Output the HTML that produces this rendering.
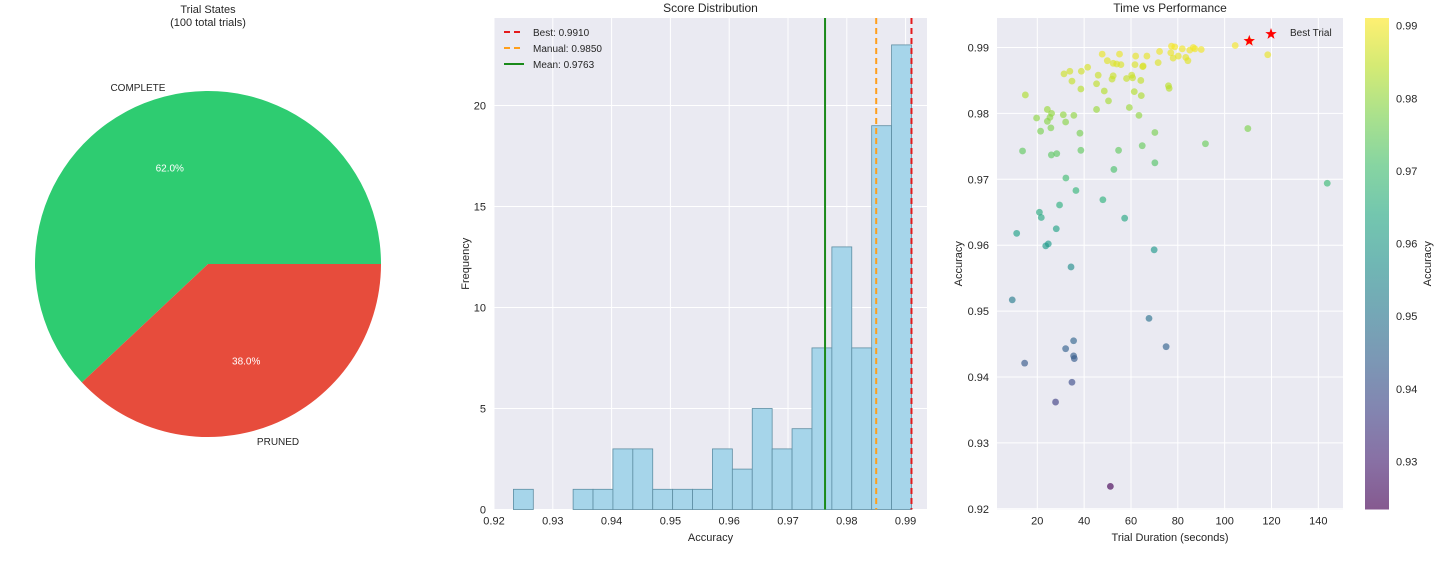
<!DOCTYPE html>
<html><head><meta charset="utf-8"><style>
body{margin:0;background:#fff;font-family:"Liberation Sans",sans-serif;}
svg text{font-family:"Liberation Sans",sans-serif;fill:#262626;}
</style></head><body>
<svg id="c" width="1440" height="558" xmlns="http://www.w3.org/2000/svg"></svg>
<script>
const pieLabels=["COMPLETE","PRUNED"];
const pieValues=[62,38];
const pieColors=["#2ecc71","#e74c3c"];
const histCounts=[1,0,0,1,1,3,3,1,1,1,3,2,5,3,4,8,13,8,19,23];
const histMin=0.9233, histMax=0.9910;
const histXTicks=[0.92,0.93,0.94,0.95,0.96,0.97,0.98,0.99];
const histYTicks=[0,5,10,15,20];
const refNames=["Best: 0.9910","Manual: 0.9850","Mean: 0.9763"];
const refValues=[0.9910,0.9850,0.9763];
const durations=[47.7,49.9,55.1,52.4,53.9,55.7,62.0,61.7,65.2,66.8,72.2,71.6,77.3,78.7,81.9,77.0,78.0,80.2,83.4,84.3,85.1,86.6,87.3,90.0,104.5,118.4,31.4,33.9,34.8,38.8,41.5,46.0,45.3,48.6,50.4,51.9,52.4,58.1,60.3,60.7,64.2,65.0,61.4,64.4,38.6,14.9,24.3,26.1,19.7,25.4,24.3,31.1,35.6,32.1,25.8,21.4,45.3,59.3,63.4,38.2,13.7,26.0,28.3,38.6,54.7,64.8,70.2,76.0,76.3,109.9,91.8,70.2,52.7,32.2,36.5,143.8,48.0,29.5,20.9,21.7,57.3,28.1,11.2,23.6,24.7,69.9,34.4,9.3,67.7,35.5,32.1,75.0,35.5,35.8,14.6,34.8,27.8,51.2,110.5];
const accuracies=[0.9890,0.9880,0.9890,0.9876,0.9875,0.9874,0.9887,0.9874,0.9872,0.9887,0.9894,0.9877,0.9902,0.9901,0.9898,0.9892,0.9884,0.9887,0.9885,0.9880,0.9896,0.9900,0.9898,0.9897,0.9903,0.9889,0.9860,0.9864,0.9849,0.9864,0.9870,0.9858,0.9845,0.9834,0.9819,0.9852,0.9857,0.9853,0.9858,0.9854,0.9850,0.9871,0.9833,0.9827,0.9837,0.9828,0.9806,0.9800,0.9793,0.9794,0.9788,0.9798,0.9797,0.9787,0.9778,0.9773,0.9806,0.9809,0.9797,0.9770,0.9743,0.9737,0.9739,0.9744,0.9744,0.9751,0.9771,0.9842,0.9838,0.9777,0.9754,0.9725,0.9715,0.9702,0.9683,0.9694,0.9669,0.9661,0.9650,0.9642,0.9641,0.9625,0.9618,0.9599,0.9602,0.9593,0.9567,0.9517,0.9489,0.9455,0.9443,0.9446,0.9432,0.9428,0.9421,0.9392,0.9362,0.9234,0.9910];
const bestTrial=[110.5,0.9910];
const scXTicks=[20,40,60,80,100,120,140];
const scYTicks=[0.92,0.93,0.94,0.95,0.96,0.97,0.98,0.99];
const cbTicks=[0.93,0.94,0.95,0.96,0.97,0.98,0.99];

const svg=document.getElementById('c');
const NS="http://www.w3.org/2000/svg";
function mk(tag,at,parent){const e=document.createElementNS(NS,tag);for(const k in at)e.setAttribute(k,at[k]);(parent||svg).appendChild(e);return e;}
function txt(s,at,parent){const e=mk('text',at,parent);e.textContent=s;return e;}
const vir=[[68,1,84],[72,40,120],[62,74,137],[49,104,142],[38,130,142],[31,158,137],[53,183,121],[110,206,88],[181,222,43],[253,231,37]];
function viridis(t){t=Math.max(0,Math.min(1,t));const p=t*(vir.length-1),i=Math.min(vir.length-2,Math.floor(p)),f=p-i;const c=vir[i].map((v,k)=>Math.round(v+(vir[i+1][k]-v)*f));return `rgb(${c[0]},${c[1]},${c[2]})`;}

// ---------- Pie ----------
const pg=mk('g',{});
let t1=txt("Trial States",{x:208,y:13,'text-anchor':'middle','font-size':11},pg);
let t2=txt("(100 total trials)",{x:208,y:26,'text-anchor':'middle','font-size':11},pg);
const cx=208,cy=264,R=173,tot=pieValues.reduce((a,b)=>a+b,0);
let a0=0;
pieValues.forEach((v,i)=>{
  const a1=a0+v/tot*2*Math.PI;
  const x0=cx+R*Math.cos(a0),y0=cy-R*Math.sin(a0),x1=cx+R*Math.cos(a1),y1=cy-R*Math.sin(a1);
  const large=(a1-a0)>Math.PI?1:0;
  const p=mk('path',{d:`M${cx},${cy} L${x0},${y0} A${R},${R} 0 ${large} 0 ${x1},${y1} Z`,fill:pieColors[i]},pg);
  
  
  const am=(a0+a1)/2;
  const l=txt(pieLabels[i],{x:cx+R*1.1*Math.cos(am),y:cy-R*1.1*Math.sin(am)+4,'text-anchor':'middle','font-size':10},pg);
  
  
  const pc=txt((v/tot*100).toFixed(1)+'%',{x:cx+R*0.6*Math.cos(am),y:cy-R*0.6*Math.sin(am)+4,'text-anchor':'middle','font-size':10,style:'fill:#fff'},pg);
  
  
  a0=a1;
});

// ---------- Histogram ----------
const hg=mk('g',{});
const HL=494,HR=927,HT=18,HB=509.5;
const hx=v=>HL+(v-0.92)/0.01*58.8;
const hy=v=>HB-v*20.2;
let bg=mk('rect',{x:HL,y:HT,width:HR-HL,height:HB-HT,fill:'#eaeaf2'},hg);
histXTicks.forEach(t=>{mk('line',{x1:hx(t),x2:hx(t),y1:HT,y2:HB,stroke:'#fff','stroke-width':1},hg);
  const e=txt(t.toFixed(2),{x:hx(t),y:HB+15,'text-anchor':'middle','font-size':11},hg);});
histYTicks.forEach(t=>{mk('line',{x1:HL,x2:HR,y1:hy(t),y2:hy(t),stroke:'#fff','stroke-width':1},hg);
  const e=txt(String(t),{x:HL-8,y:hy(t)+4,'text-anchor':'end','font-size':11},hg);});
const bw=(histMax-histMin)/histCounts.length;
histCounts.forEach((c,i)=>{if(!c)return;const x0=hx(histMin+i*bw),x1=hx(histMin+(i+1)*bw);
  const r=mk('rect',{x:x0,y:hy(c),width:x1-x0,height:hy(0)-hy(c),fill:'#a6d5ea',stroke:'#5e8ea3','stroke-width':0.8},hg);
  });
const refStyle=[{s:'#e41a1c',d:'6,4'},{s:'#ff9f1c',d:'6,4'},{s:'#1a8a1a',d:''}];
refValues.forEach((v,i)=>{const l=mk('line',{x1:hx(v),x2:hx(v),y1:HT,y2:HB,stroke:refStyle[i].s,'stroke-width':2,'stroke-dasharray':refStyle[i].d},hg);
  });
refNames.forEach((n,i)=>{const y=32+i*16;
  mk('line',{x1:504,x2:524,y1:y,y2:y,stroke:refStyle[i].s,'stroke-width':2,'stroke-dasharray':refStyle[i].d},hg);
  const e=txt(n,{x:533,y:y+4,'font-size':10},hg);});
let ht=txt("Score Distribution",{x:(HL+HR)/2,y:12,'text-anchor':'middle','font-size':12},hg);
let hxl=txt("Accuracy",{x:(HL+HR)/2,y:541,'text-anchor':'middle','font-size':11},hg);
let hyl=txt("Frequency",{x:0,y:0,'text-anchor':'middle','font-size':11,transform:`translate(469,${(HT+HB)/2}) rotate(-90)`},hg);

// ---------- Scatter ----------
const sg=mk('g',{});
const SL=997,SR=1343,ST=18,SB=509.5;
const sx=v=>1037.3+(v-20)*2.342;
const sy=v=>508.8-(v-0.92)/0.01*65.9;
let sbg=mk('rect',{x:SL,y:ST,width:SR-SL,height:SB-ST,fill:'#eaeaf2'},sg);
scXTicks.forEach(t=>{mk('line',{x1:sx(t),x2:sx(t),y1:ST,y2:SB,stroke:'#fff'},sg);
  const e=txt(String(t),{x:sx(t),y:SB+15,'text-anchor':'middle','font-size':11},sg);});
scYTicks.forEach(t=>{mk('line',{x1:SL,x2:SR,y1:sy(t),y2:sy(t),stroke:'#fff'},sg);
  const e=txt(t.toFixed(2),{x:SL-8,y:sy(t)+4,'text-anchor':'end','font-size':11},sg);});
const cmin=0.9234,cmax=0.9910;
durations.forEach((d,i)=>{const c=mk('circle',{cx:sx(d),cy:sy(accuracies[i]),r:3.4,fill:viridis((accuracies[i]-cmin)/(cmax-cmin)),'fill-opacity':0.65},sg);
  });
function star(x,y,r){let p='';for(let k=0;k<10;k++){const a=-Math.PI/2+k*Math.PI/5,rr=k%2?r*0.4:r;p+=(x+rr*Math.cos(a)).toFixed(1)+','+(y+rr*Math.sin(a)).toFixed(1)+' ';}return p;}
let bs=mk('polygon',{points:star(sx(bestTrial[0]),sy(bestTrial[1]),6),fill:'#ff0000'},sg);
mk('polygon',{points:star(1271,34,6),fill:'#ff0000'},sg);
let bl=txt("Best Trial",{x:1290,y:36,'font-size':10},sg);
let st=txt("Time vs Performance",{x:(SL+SR)/2,y:12,'text-anchor':'middle','font-size':12},sg);
let sxl=txt("Trial Duration (seconds)",{x:(SL+SR)/2,y:541,'text-anchor':'middle','font-size':11},sg);
let syl=txt("Accuracy",{x:0,y:0,'text-anchor':'middle','font-size':11,transform:`translate(962,${(ST+SB)/2}) rotate(-90)`},sg);
// colorbar
const defs=mk('defs',{});const lg=mk('linearGradient',{id:'vg',x1:0,y1:1,x2:0,y2:0},defs);
for(let k=0;k<=10;k++)mk('stop',{offset:k/10,'stop-color':viridis(k/10),'stop-opacity':0.65},lg);
const CT=18,CB=509.5;const cyv=v=>25.6+(0.99-v)/0.01*72.65;
let cb=mk('rect',{x:1365,y:CT,width:24,height:CB-CT,fill:'url(#vg)'},sg);
cbTicks.forEach(t=>{const e=txt(t.toFixed(2),{x:1396,y:cyv(t)+4,'font-size':11},sg);});
let cl=txt("Accuracy",{x:0,y:0,'text-anchor':'middle','font-size':11,transform:`translate(1431,${(CT+CB)/2}) rotate(-90)`},sg);
</script>
</body></html>
